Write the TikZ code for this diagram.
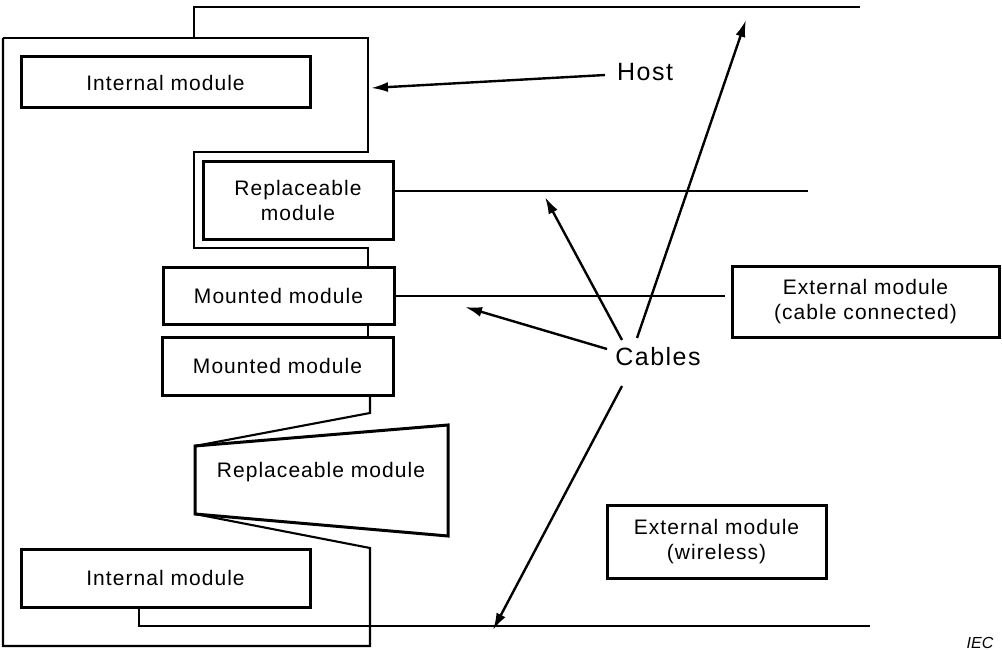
\documentclass[tikz,border=0pt]{standalone}
\usepackage{fontspec}
\setmainfont{Liberation Sans}
\newfontfamily\modfont[LetterSpace=5]{Liberation Sans}
\newfontfamily\bigfont[LetterSpace=6]{Liberation Sans}
\usetikzlibrary{arrows.meta}
\begin{document}
\begin{tikzpicture}[x=1pt,y=-1pt,
  modbox/.style={draw, line width=3pt, inner sep=0pt, align=center, font=\modfont\fontsize{21}{25.5}\selectfont},
  outline/.style={line width=2.1pt, line join=miter},
  cable/.style={line width=1.9pt},
  pointer/.style={line width=2.4pt, -{Latex[length=17pt,width=10pt]}},
  biglabel/.style={font=\bigfont\fontsize{25}{30}\selectfont, inner sep=0pt}]
\useasboundingbox (0,0) rectangle (1002,650);

% host outline
\draw[outline] (3,38) -- (368,38) -- (368,152) -- (194,152) -- (194,248) -- (368,248) -- (368,267);
\draw[outline] (368,324) -- (368,337);
\draw[outline] (370,395) -- (370,413) -- (195,446);
\draw[outline] (195,514) -- (370,548) -- (370,646) -- (3,646) -- (3,38);

% modules
\node[modbox, minimum width=289pt, minimum height=51pt] (int1) at (165.5,82.5) {Internal module};
\node[modbox, minimum width=190pt, minimum height=77pt] (rep1) at (298,200.5) {Replaceable\\module};
\node[modbox, minimum width=231pt, minimum height=57pt] (mnt1) at (278.5,295.5) {Mounted module};
\node[modbox, minimum width=231pt, minimum height=58pt] (mnt2) at (277.5,366) {Mounted module};
\draw[line width=3pt, line join=miter] (195,446) -- (448,425) -- (448,536) -- (195,514) -- cycle;
\node[font=\modfont\fontsize{21}{25.5}\selectfont, inner sep=0pt] (rep2) at (321,472) {Replaceable module};
\node[modbox, minimum width=289pt, minimum height=58pt] (int2) at (165.5,578) {Internal module};
\node[modbox, minimum width=267pt, minimum height=71pt] (extc) at (865.5,301.5) {External module\\(cable connected)};
\node[modbox, minimum width=219pt, minimum height=73pt] (extw) at (716.5,541.5) {External module\\(wireless)};

% cables
\coordinate (topA) at (194,38);
\coordinate (topB) at (194,7);
\coordinate (topE) at (860,7);
\draw[cable] (topA) -- (topB) -- (topE);
\coordinate (repE) at (808,191);
\draw[cable] (rep1.east |- repE) -- (repE);
\coordinate (mntE) at (725,296);
\draw[cable] (mnt1.east |- mntE) -- (mntE);
\coordinate (intB) at (139,626);
\coordinate (intE) at (870,626);
\draw[cable] (int2.south -| intB) -- (intB) -- (intE);

% labels
\node[biglabel] (host) at (645,72) {Host};
\node[biglabel] (cables) at (658,357) {Cables};
\node[font=\itshape\fontsize{16}{18}\selectfont, inner sep=0pt] (iec) at (980,643) {IEC};

% pointers
\coordinate (hostT) at (605,75);
\coordinate (hostH) at (371,88);
\draw[pointer] (hostT) -- (hostH);
\coordinate (c1t) at (607,349);
\coordinate (c1h) at (465,307);
\coordinate (c2t) at (622,340);
\coordinate (c2h) at (545,197);
\coordinate (c3t) at (637,338);
\coordinate (c3h) at (746,20);
\coordinate (c4t) at (622,386);
\coordinate (c4h) at (493,630);
\draw[pointer] (c1t) -- (c1h);
\draw[pointer] (c2t) -- (c2h);
\draw[pointer] (c3t) -- (c3h);
\draw[pointer] (c4t) -- (c4h);
\end{tikzpicture}
\end{document}
